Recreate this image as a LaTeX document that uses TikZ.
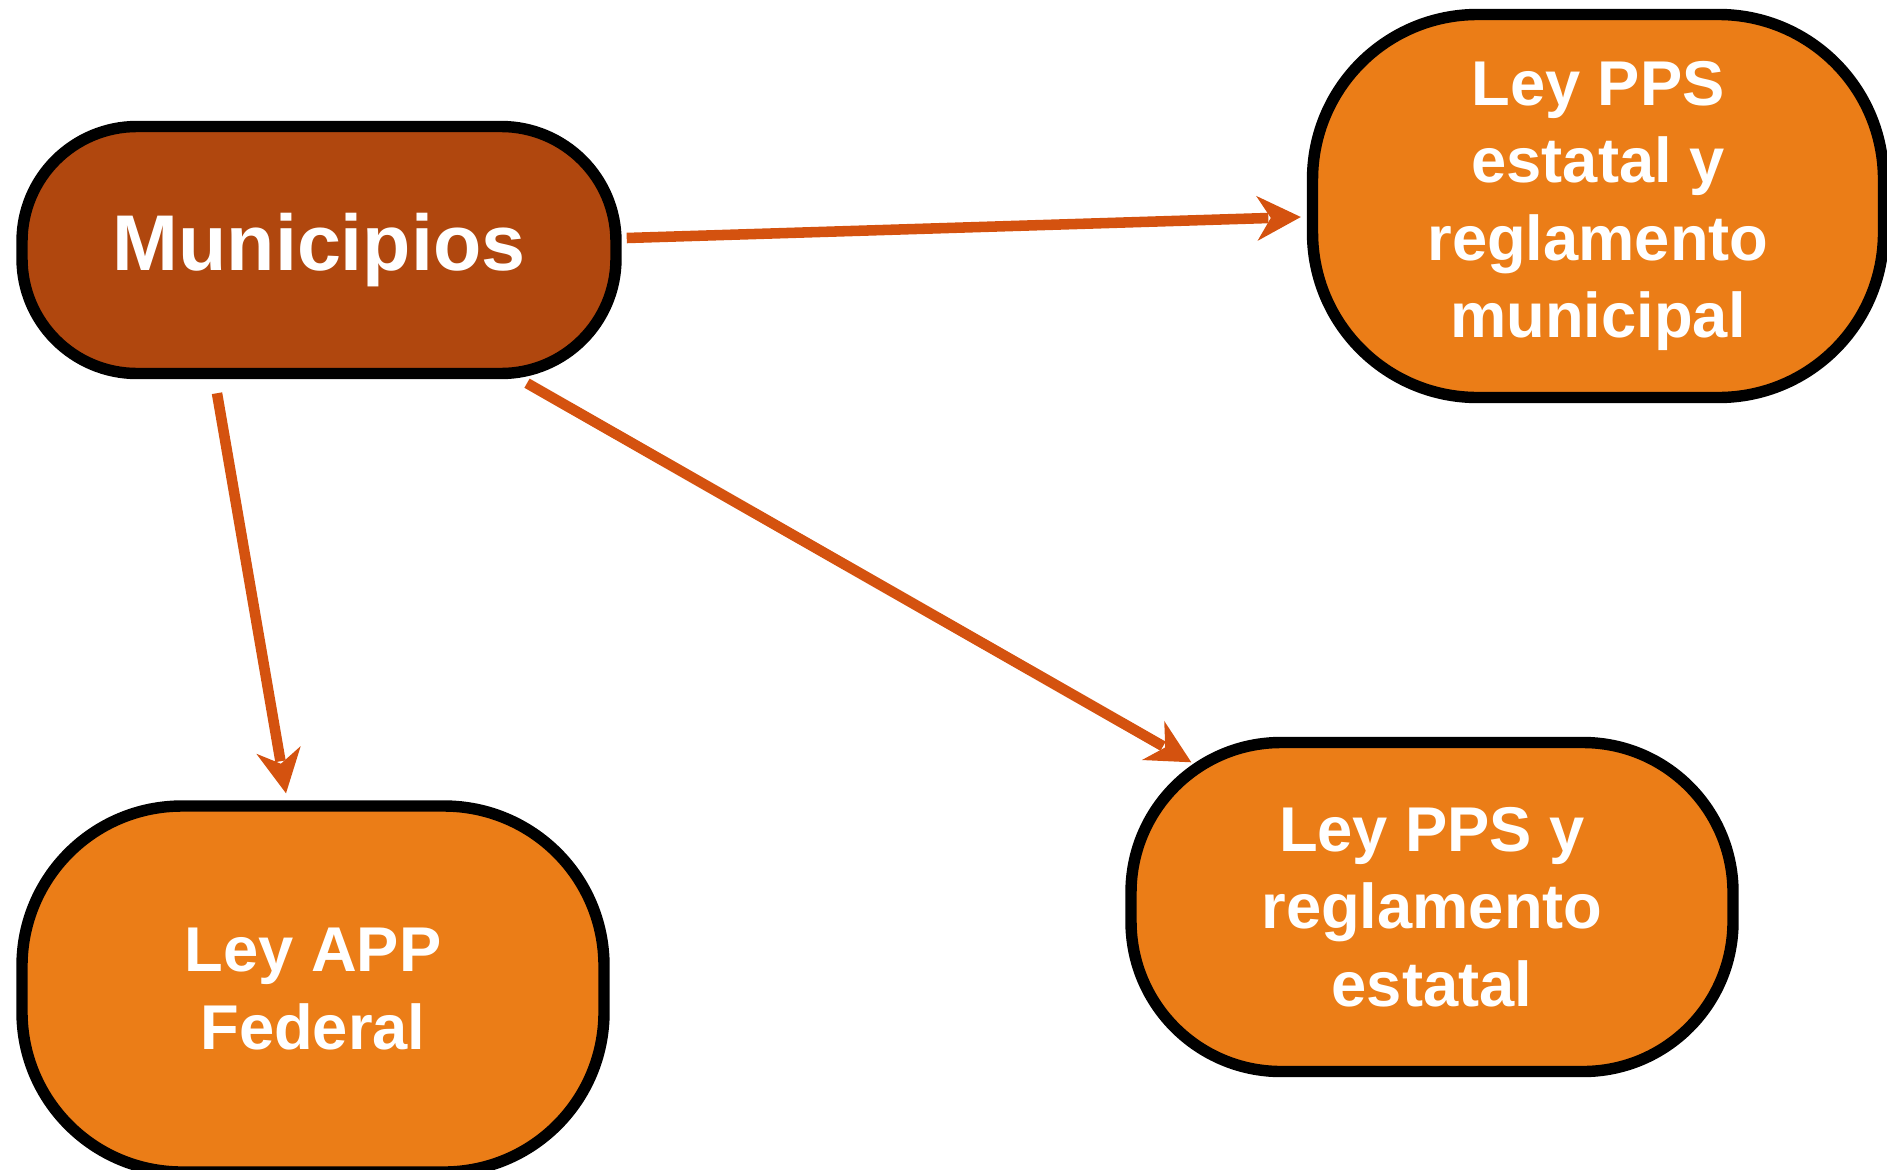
\documentclass[tikz,border=0pt]{standalone}
\usepackage{fontspec}
\setmainfont{Liberation Sans}
\usetikzlibrary{shapes, positioning, calc}
\usepackage{color}
\definecolor{darkorange}{RGB}{176,71,14}
\definecolor{lightorange}{RGB}{235,125,23}
\definecolor{arroworange}{RGB}{212,82,15}
% filled arrow head from #1 towards #2
\newcommand{\tiphead}[2]{\fill[arroworange] (#2) -- ($(#2)!0.88cm!(#1)!0.45cm!90:(#1)$)
    -- ($(#2)!0.6cm!(#1)$) -- ($(#2)!0.88cm!(#1)!0.45cm!-90:(#1)$) -- cycle;}

\begin{document}
\begin{tikzpicture}[
    every node/.style={text=white, font=\bfseries, align=center},
    law/.style={draw=black, line width=6.5pt, fill=lightorange, rectangle,
        font=\fontsize{36}{44}\selectfont\bfseries, inner sep=0pt},
    conn/.style={draw=arroworange, line width=6pt, shorten >=0.65cm}]
    \useasboundingbox (0,0) rectangle (37.74,-23.38);

    \node [law, fill=darkorange, rounded corners=2.3cm, minimum width=11.88cm, minimum height=4.94cm,
        font=\fontsize{45}{50}\selectfont\bfseries] (muni) at (6.38,-5.0) {Municipios};
    \node [law, rounded corners=3.3cm, minimum width=11.42cm, minimum height=7.66cm] (pmun) at (31.96,-4.12)
        {Ley PPS\\estatal y\\reglamento\\municipal};
    \node [law, rounded corners=3cm, minimum width=12.04cm, minimum height=6.58cm] (pest) at (28.64,-18.14)
        {Ley PPS y\\reglamento\\estatal};
    \node [law, rounded corners=3.2cm, minimum width=11.64cm, minimum height=7.32cm] (app) at (6.26,-19.78)
        {Ley APP\\Federal};

    % arrow ends
    \coordinate (m1) at ([xshift=0.1cm,yshift=0.24cm]muni.east);
    \coordinate (e1) at ([xshift=-0.12cm,yshift=-0.22cm]pmun.west);
    \coordinate (m2) at ([xshift=4.16cm,yshift=-0.08cm]muni.south);
    \coordinate (e2) at ([xshift=1.32cm,yshift=-0.51cm]pest.north west);
    \coordinate (m3) at ([xshift=-2.04cm,yshift=-0.28cm]muni.south);
    \coordinate (e3) at ([xshift=-0.54cm,yshift=0.14cm]app.north);

    \draw[conn] (m1) -- (e1); \tiphead{m1}{e1}
    \draw[conn] (m2) -- (e2); \tiphead{m2}{e2}
    \draw[conn] (m3) -- (e3); \tiphead{m3}{e3}
\end{tikzpicture}
\end{document}
